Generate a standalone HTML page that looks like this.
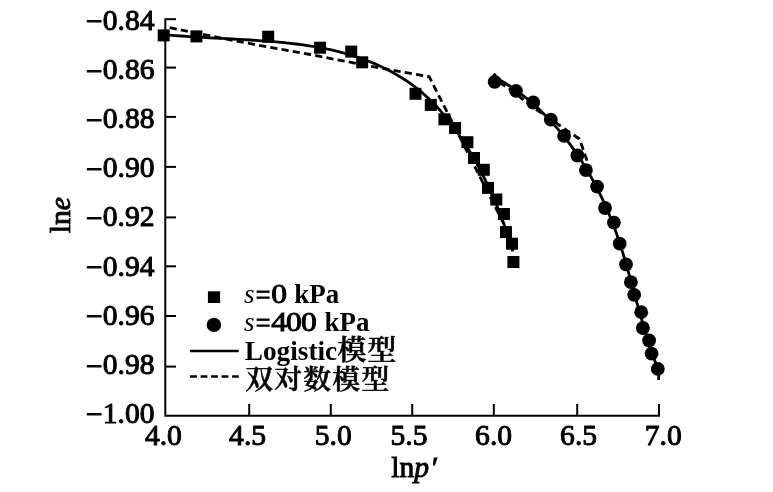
<!DOCTYPE html>
<html lang="zh"><head><meta charset="utf-8"><title>lne - lnp′</title>
<style>html,body{margin:0;padding:0;background:#fff}svg{display:block}text{font-family:"Liberation Serif","Noto Serif CJK SC",serif;fill:#000}.t{font-size:29.6px;stroke:#000;stroke-width:1px;stroke-linejoin:round}.a{font-size:29.6px;stroke:#000;stroke-width:.9px}.b{font-weight:bold}.c{font-weight:600;stroke:#000;stroke-width:.5px}.i{font-style:italic}</style></head><body>
<svg width="773" height="492" viewBox="0 0 773 492">
<rect width="773" height="492" fill="#fff"/>
<g stroke="#000" stroke-width="2" fill="none" stroke-linecap="butt">
<path d="M165.3,18.2 V416.8 M164.3,415.8 H660"/>
<path d="M165.3,19.2 H176"/>
<path d="M165.3,67.6 H176"/>
<path d="M165.3,116.9 H176"/>
<path d="M165.3,166.9 H176"/>
<path d="M165.3,217.4 H176"/>
<path d="M165.3,266.3 H176"/>
<path d="M165.3,316.0 H176"/>
<path d="M165.3,366.6 H176"/>
<path d="M249.2,415.8 V404"/>
<path d="M330.8,415.8 V404"/>
<path d="M412.2,415.8 V404"/>
<path d="M493.8,415.8 V404"/>
<path d="M577.2,415.8 V404"/>
<path d="M659.0,415.8 V404"/>
</g>
<text class="t" transform="translate(154.5,29.6) scale(1,1)" text-anchor="end"><tspan dy="1.7">−</tspan><tspan dy="-1.7">0.84</tspan></text>
<text class="t" transform="translate(154.5,78.8) scale(1,1)" text-anchor="end"><tspan dy="1.7">−</tspan><tspan dy="-1.7">0.86</tspan></text>
<text class="t" transform="translate(154.5,128.1) scale(1,1)" text-anchor="end"><tspan dy="1.7">−</tspan><tspan dy="-1.7">0.88</tspan></text>
<text class="t" transform="translate(154.5,177.1) scale(1,1)" text-anchor="end"><tspan dy="1.7">−</tspan><tspan dy="-1.7">0.90</tspan></text>
<text class="t" transform="translate(154.5,226.3) scale(1,1)" text-anchor="end"><tspan dy="1.7">−</tspan><tspan dy="-1.7">0.92</tspan></text>
<text class="t" transform="translate(154.5,275.5) scale(1,1)" text-anchor="end"><tspan dy="1.7">−</tspan><tspan dy="-1.7">0.94</tspan></text>
<text class="t" transform="translate(154.5,324.7) scale(1,1)" text-anchor="end"><tspan dy="1.7">−</tspan><tspan dy="-1.7">0.96</tspan></text>
<text class="t" transform="translate(154.5,374.3) scale(1,1)" text-anchor="end"><tspan dy="1.7">−</tspan><tspan dy="-1.7">0.98</tspan></text>
<text class="t" transform="translate(154.5,422.6) scale(1,1)" text-anchor="end"><tspan dy="1.7">−</tspan><tspan dy="-1.7">1.00</tspan></text>
<text class="t" transform="translate(163.4,444.8) scale(1,1)" text-anchor="middle">4.0</text>
<text class="t" transform="translate(247.6,444.8) scale(1,1)" text-anchor="middle">4.5</text>
<text class="t" transform="translate(333.2,444.8) scale(1,1)" text-anchor="middle">5.0</text>
<text class="t" transform="translate(409.0,444.8) scale(1,1)" text-anchor="middle">5.5</text>
<text class="t" transform="translate(493.6,444.8) scale(1,1)" text-anchor="middle">6.0</text>
<text class="t" transform="translate(578.6,444.8) scale(1,1)" text-anchor="middle">6.5</text>
<text class="t" transform="translate(663.2,444.8) scale(1,1)" text-anchor="middle">7.0</text>
<text class="a" transform="translate(69.9,233.2) rotate(-90)">ln<tspan class="i">e</tspan></text>
<text class="a" x="391.2" y="477.1">ln<tspan class="i">p</tspan><tspan dx="3">′</tspan></text>
<g stroke="#000" fill="none" stroke-linejoin="round">
<path stroke-width="2.8" d="M163.8,34.7 L169.5,35.2 L175.2,35.6 L180.9,36.0 L186.6,36.4 L192.3,36.8 L198.0,37.1 L203.8,37.4 L209.5,37.8 L215.3,38.1 L221.1,38.4 L226.8,38.7 L232.6,39.0 L238.4,39.3 L244.2,39.7 L249.9,40.0 L255.7,40.4 L261.5,40.8 L267.3,41.2 L273.0,41.7 L278.8,42.2 L284.5,42.7 L290.3,43.3 L296.0,44.0 L301.7,44.7 L307.4,45.6 L313.1,46.4 L318.7,47.4 L324.4,48.5 L330.0,49.7 L335.6,50.9 L341.2,52.3 L346.8,53.9 L352.3,55.5 L357.8,57.3 L363.2,59.2 L368.6,61.2 L374.0,63.4 L379.3,65.8 L384.5,68.2 L389.6,70.8 L394.7,73.6 L399.6,76.5 L404.5,79.5 L409.2,82.7 L413.9,86.1 L418.4,89.6 L422.8,93.2 L427.0,97.0 L431.2,101.0 L435.2,105.1 L439.1,109.3 L442.9,113.6 L446.6,118.0 L450.2,122.6 L453.7,127.2 L457.1,131.9 L460.3,136.7 L463.5,141.5 L466.7,146.4 L469.7,151.3 L472.6,156.3 L475.5,161.3 L478.3,166.4 L481.0,171.5 L483.6,176.6 L486.1,181.8 L488.6,187.0 L491.0,192.2 L493.3,197.4 L495.6,202.7 L497.8,208.0 L499.9,213.4 L501.9,218.7 L503.9,224.1 L505.8,229.5 L507.6,235.0 L509.4,240.4 L511.1,245.9 L512.8,251.4"/>
<path stroke-width="2.8" d="M493.8,73.6 L496.5,77.5 L501.4,80.9 L505.4,83.3 L509.3,85.8 L513.1,88.3 L516.9,90.9 L520.5,93.6 L524.1,96.3 L527.6,99.1 L531.0,101.9 L534.3,104.8 L537.6,107.8 L540.8,110.8 L543.9,113.9 L547.0,117.0 L550.0,120.1 L552.9,123.4 L555.8,126.6 L558.6,129.9 L561.4,133.3 L564.1,136.7 L566.8,140.1 L569.5,143.6 L572.0,147.1 L574.6,150.7 L577.0,154.3 L579.5,158.0 L581.9,161.6 L584.2,165.4 L586.5,169.1 L588.7,172.9 L590.9,176.7 L593.0,180.6 L595.1,184.4 L597.2,188.4 L599.2,192.3 L601.1,196.3 L603.0,200.2 L604.8,204.3 L606.6,208.3 L608.3,212.3 L610.0,216.4 L611.7,220.5 L613.2,224.6 L614.8,228.8 L616.3,232.9 L617.7,237.1 L619.1,241.3 L620.5,245.5 L621.8,249.7 L623.1,253.9 L624.4,258.1 L625.6,262.4 L626.9,266.6 L628.1,270.9 L629.3,275.1 L630.5,279.4 L631.6,283.7 L632.8,287.9 L634.0,292.2 L635.2,296.4 L636.3,300.7 L637.5,305.0 L638.7,309.2 L640.0,313.5 L641.2,317.7 L642.4,322.0 L643.7,326.2 L645.0,330.4 L646.2,334.6 L647.5,338.8 L648.7,343.0 L650.0,347.2 L651.4,351.3 L652.8,355.5 L654.4,359.6 L655.9,363.7 L657.2,367.8 L658.1,371.8 L658.7,375.9 L658.6,379.9"/>
<path stroke-width="2.8" stroke-dasharray="7.2 4.2" stroke-dashoffset="7.2" d="M165.5,26.8 L232.9,40.5 L310,54.5 L372.9,66.6 L429.2,76.7 L511,238"/>
<path stroke-width="2.8" stroke-dasharray="7.2 4.2" stroke-dashoffset="6.5" d="M495,79.8 L509.3,88.8 L532,106.5 L579.5,139 L587.2,161.1 L588.6,166"/>
</g>
<g fill="#000">
<rect x="157.7" y="29.4" width="12" height="12"/>
<rect x="190.4" y="30.4" width="12" height="12"/>
<rect x="262.2" y="30.7" width="12" height="12"/>
<rect x="314.1" y="41.7" width="12" height="12"/>
<rect x="345.2" y="45.6" width="12" height="12"/>
<rect x="356.2" y="56.3" width="12" height="12"/>
<rect x="409.5" y="87.8" width="12" height="12"/>
<rect x="424.8" y="98.9" width="12" height="12"/>
<rect x="438.4" y="113.3" width="12" height="12"/>
<rect x="449.1" y="122.0" width="12" height="12"/>
<rect x="461.4" y="136.2" width="12" height="12"/>
<rect x="468.0" y="152.0" width="12" height="12"/>
<rect x="477.8" y="163.8" width="12" height="12"/>
<rect x="482.0" y="181.9" width="12" height="12"/>
<rect x="490.3" y="193.5" width="12" height="12"/>
<rect x="497.9" y="208.0" width="12" height="12"/>
<rect x="500.0" y="226.1" width="12" height="12"/>
<rect x="506.0" y="237.7" width="12" height="12"/>
<rect x="507.4" y="256.0" width="12" height="12"/>
<circle cx="494.6" cy="81.8" r="6.9"/>
<circle cx="516" cy="90.8" r="6.9"/>
<circle cx="533.2" cy="102.5" r="6.9"/>
<circle cx="550.8" cy="119.7" r="6.9"/>
<circle cx="564.1" cy="135.9" r="6.9"/>
<circle cx="577.4" cy="155.5" r="6.9"/>
<circle cx="585.9" cy="170.1" r="6.9"/>
<circle cx="597.1" cy="186.6" r="6.9"/>
<circle cx="605" cy="208" r="6.9"/>
<circle cx="613.9" cy="222.6" r="6.9"/>
<circle cx="619.7" cy="243.7" r="6.9"/>
<circle cx="626" cy="264.3" r="6.9"/>
<circle cx="630.9" cy="282.2" r="6.9"/>
<circle cx="634.2" cy="294.8" r="6.9"/>
<circle cx="641.2" cy="312.2" r="6.9"/>
<circle cx="642.9" cy="328" r="6.9"/>
<circle cx="649.1" cy="340.5" r="6.9"/>
<circle cx="651.6" cy="353.6" r="6.9"/>
<circle cx="657.8" cy="368.9" r="6.9"/>
<rect x="207.9" y="291.3" width="12.2" height="11.7"/>
<circle cx="213.9" cy="324.9" r="7.2"/>
</g>
<path d="M190.1,351.1 H238.7" stroke="#000" stroke-width="2.5"/>
<path d="M190.1,376.4 H238.8" stroke="#000" stroke-width="2.5" stroke-dasharray="6.8 3.7"/>
<text class="i" transform="translate(244,303.3) scale(1,1)" style="font-size:27px">s</text>
<text class="n" transform="translate(255.8,304.40000000000003) scale(0.99,1)" style="font-size:26.3px;stroke:#000;stroke-width:.9px">=</text>
<text class="n" transform="translate(271.2,303.3) scale(1.2,1)" style="font-size:26.3px;stroke:#000;stroke-width:.9px;letter-spacing:-.75px">0</text>
<text class="b" transform="translate(294.3,303.3) scale(0.99,1)" style="font-size:27.2px">kPa</text>
<text class="i" transform="translate(244,331.3) scale(1,1)" style="font-size:27px">s</text>
<text class="n" transform="translate(255.8,332.40000000000003) scale(0.99,1)" style="font-size:26.3px;stroke:#000;stroke-width:.9px">=</text>
<text class="n" transform="translate(271.2,331.3) scale(1.2,1)" style="font-size:26.3px;stroke:#000;stroke-width:.9px;letter-spacing:-.75px">400</text>
<text class="b" transform="translate(324.6,331.3) scale(0.99,1)" style="font-size:27.2px">kPa</text>
<text class="b" transform="translate(244.8,359.8) scale(1.01,1)" style="font-size:27px">Logistic</text>
<text class="c" transform="translate(337.6,360.2) scale(1,1)" style="font-size:28.8px;letter-spacing:1.2px">模型</text>
<text class="c" transform="translate(245.2,388.8) scale(1,1)" style="font-size:27.8px;letter-spacing:1.25px">双对数模型</text>
</svg></body></html>
